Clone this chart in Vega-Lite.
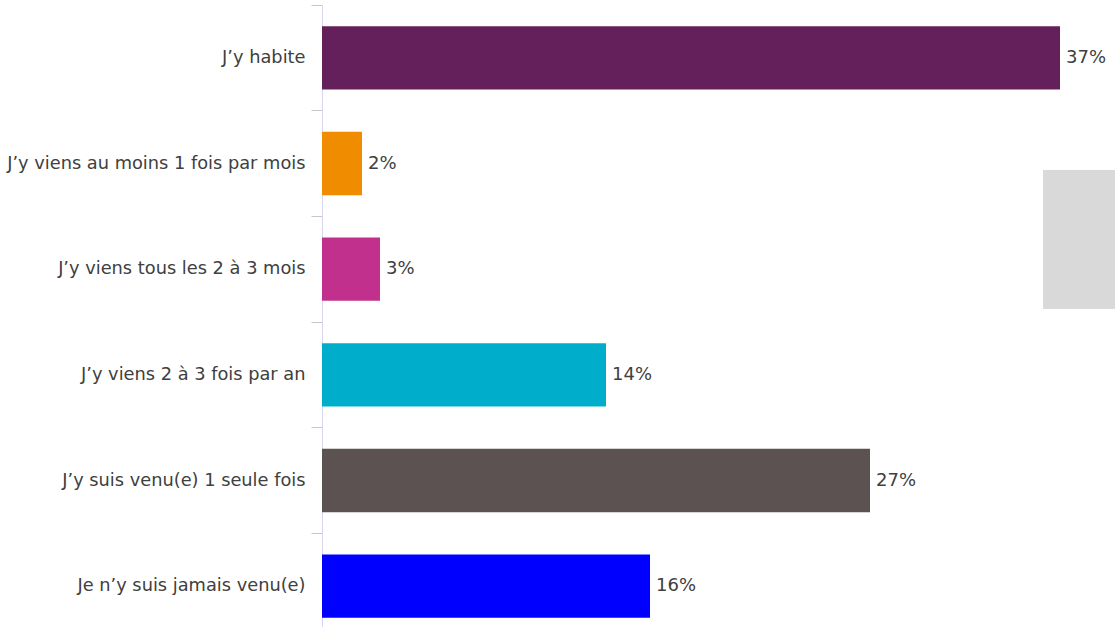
{
  "$schema": "https://vega.github.io/schema/vega-lite/v6.json",
  "autosize": "none",
  "padding": {"left": 322, "top": 5, "right": 0, "bottom": 0},
  "width": 793,
  "height": 634,
  "background": "white",
  "config": {"view": {"stroke": null}, "font": "DejaVu Sans"},
  "data": {
    "values": [
      {"reponse": "J’y habite", "pct": 36.9, "label": "37%"},
      {"reponse": "J’y viens au moins 1 fois par mois", "pct": 2.0, "label": "2%"},
      {"reponse": "J’y viens tous les 2 à 3 mois", "pct": 2.9, "label": "3%"},
      {"reponse": "J’y viens 2 à 3 fois par an", "pct": 14.2, "label": "14%"},
      {"reponse": "J’y suis venu(e) 1 seule fois", "pct": 27.4, "label": "27%"},
      {"reponse": "Je n’y suis jamais venu(e)", "pct": 16.4, "label": "16%"}
    ]
  },
  "encoding": {
    "y": {
      "field": "reponse",
      "type": "nominal",
      "sort": null,
      "scale": {"paddingInner": 0, "paddingOuter": 0},
      "axis": {
        "title": null,
        "bandPosition": 0,
        "domainColor": "#d6d6ee",
        "domainWidth": 1,
        "tickColor": "#c8c8c8",
        "tickSize": 11,
        "labelFontSize": 17.8,
        "labelColor": "#404040",
        "labelPadding": 6,
        "labelLimit": 400
      }
    },
    "x": {
      "field": "pct",
      "type": "quantitative",
      "scale": {"domain": [0, 39.65], "nice": false, "zero": true},
      "axis": null
    }
  },
  "layer": [
    {
      "mark": {"type": "bar", "height": {"band": 0.6}},
      "encoding": {
        "color": {
          "field": "reponse",
          "type": "nominal",
          "sort": null,
          "scale": {
            "domain": ["J’y habite", "J’y viens au moins 1 fois par mois", "J’y viens tous les 2 à 3 mois", "J’y viens 2 à 3 fois par an", "J’y suis venu(e) 1 seule fois", "Je n’y suis jamais venu(e)"],
            "range": ["#63205a", "#ef8c00", "#c0308c", "#00aecb", "#5c5252", "#0000ff"]
          },
          "legend": {
            "orient": "none",
            "legendX": 721,
            "legendY": 165,
            "fillColor": "#d9d9d9",
            "padding": 0,
            "title": null,
            "symbolOpacity": 0,
            "labelOpacity": 0,
            "labelExpr": "''",
            "labelOffset": 70,
            "symbolSize": 100,
            "labelFontSize": 10,
            "rowPadding": 14.6
          }
        }
      }
    },
    {
      "mark": {"type": "text", "align": "left", "baseline": "middle", "dx": 6, "fontSize": 18, "color": "#404040"},
      "encoding": {"text": {"field": "label"}}
    }
  ]
}
